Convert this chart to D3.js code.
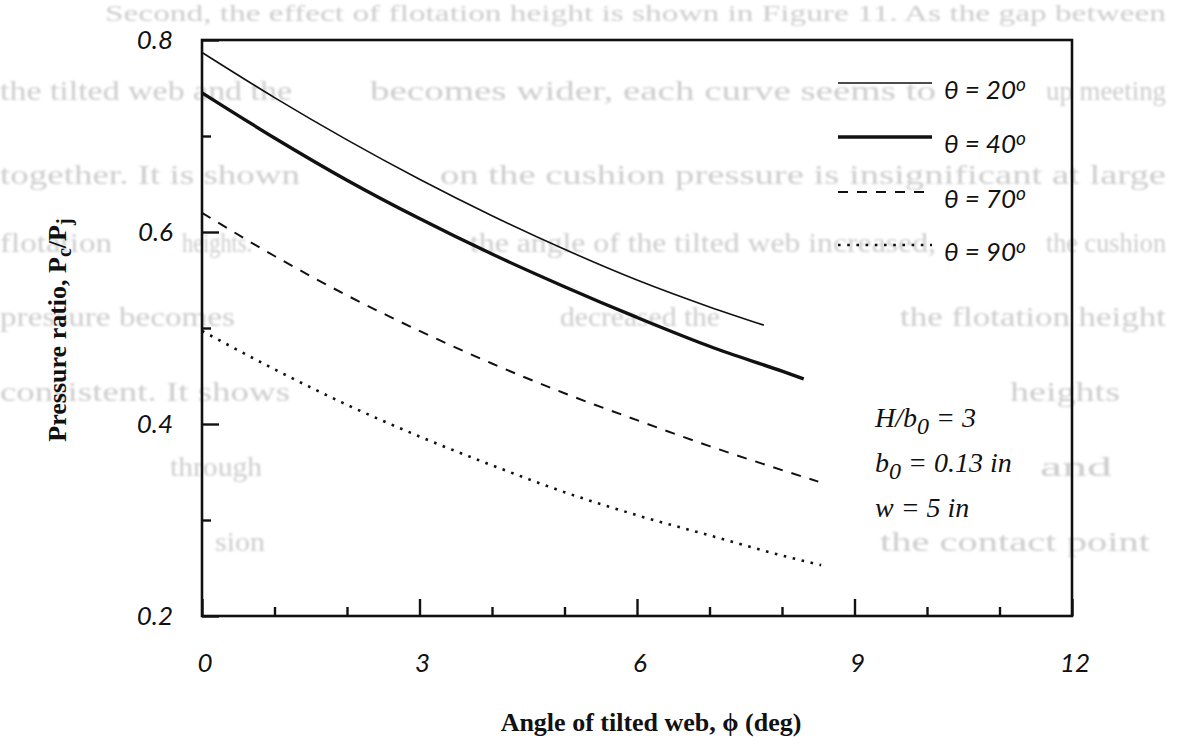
<!DOCTYPE html>
<html>
<head>
<meta charset="utf-8">
<script src="https://cdn.jsdelivr.net/npm/d3@7"></script>
<style>
  html, body { margin: 0; padding: 0; background: #ffffff; }
  svg { display: block; }
</style>
</head>
<body>
<svg id="chart" width="1180" height="744"></svg>
<script>
// Tilt angle of the web (deg) and cushion-to-jet pressure ratio for each curve
const phi20 = [0, 1, 2, 3, 4, 5, 6, 7, 7.75];
const ratio20 = [0.787, 0.740, 0.696, 0.655, 0.617, 0.582, 0.550, 0.522, 0.503];

const phi40 = [0, 1, 2, 3, 4, 5, 6, 7, 8, 8.3];
const ratio40 = [0.745, 0.698, 0.654, 0.614, 0.577, 0.543, 0.511, 0.481, 0.455, 0.447];

const phi70 = [0, 1, 2, 3, 4, 5, 6, 7, 8, 8.5];
const ratio70 = [0.620, 0.575, 0.534, 0.497, 0.463, 0.432, 0.404, 0.377, 0.352, 0.340];

const phi90 = [0, 1, 2, 3, 4, 5, 6, 7, 8, 8.54];
const ratio90 = [0.497, 0.457, 0.420, 0.387, 0.357, 0.329, 0.305, 0.284, 0.263, 0.253];

const seriesLabels = ["20", "40", "70", "90"];

const xMajorTicks = [0, 3, 6, 9, 12];
const xMinorTicks = [1, 2, 4, 5, 7, 8, 10, 11];
const yMajorTicks = [0.2, 0.4, 0.6, 0.8];
const yMinorTicks = [0.3, 0.5, 0.7];

const conditionLines = [
  { main: "H/b", sub: "0", rest: " = 3" },
  { main: "b", sub: "0", rest: " = 0.13 in" },
  { main: "w = 5 in", sub: "", rest: "" }
];

// Faint text of the printed page showing through behind the figure
const pageLines = [
  [["Second, the effect of flotation height is shown in Figure 11.  As the gap between", 105, 1166]],
  [["the tilted web and the", 0, 292], ["becomes wider, each curve seems to", 370, 936], ["up meeting", 1046, 1166]],
  [["together.  It is shown", 0, 300], ["on the cushion pressure is insignificant at large", 440, 1166]],
  [["flotation", 0, 112], ["heights.", 182, 252], ["the angle of the tilted web increased,", 470, 936], ["the cushion", 1046, 1166]],
  [["pressure becomes", 0, 235], ["decreased the", 560, 720], ["the flotation height", 900, 1166]],
  [["consistent.  It shows", 0, 290], ["heights", 1010, 1120]],
  [["through", 170, 262], ["and", 1040, 1112]],
  [["sion", 215, 265], ["the contact point", 880, 1150]]
];
const pageLineY = [21, 100, 184, 252, 326, 401, 476, 551];
const pageLineSize = [24, 28, 28, 28, 28, 28, 28, 28];

const svg = d3.select("#chart");
const plot = { left: 202, right: 1072, top: 40, bottom: 616 };

const x = d3.scaleLinear().domain([0, 12]).range([plot.left, plot.right]);
const y = d3.scaleLinear().domain([0.2, 0.8]).range([plot.bottom, plot.top]);

const serif = "'Liberation Serif', 'Times New Roman', Times, serif";
const sans = "Lato, 'Open Sans', sans-serif";

// soft filter for the show-through page text
const defs = svg.append("defs");
defs.append("filter").attr("id", "soft")
  .append("feGaussianBlur").attr("stdDeviation", 0.8);

const bg = svg.append("g").attr("filter", "url(#soft)");
pageLines.forEach((frags, i) => {
  frags.forEach(([t, x0, x1]) => {
    bg.append("text")
      .attr("x", x0).attr("y", pageLineY[i])
      .attr("font-family", serif)
      .attr("font-size", pageLineSize[i])
      .attr("fill", "#cdcdcd")
      .attr("textLength", x1 - x0).attr("lengthAdjust", "spacingAndGlyphs")
      .text(t);
  });
});

// frame
svg.append("rect")
  .attr("x", plot.left).attr("y", plot.top)
  .attr("width", plot.right - plot.left).attr("height", plot.bottom - plot.top)
  .attr("fill", "none").attr("stroke", "#111").attr("stroke-width", 2.6);

// inward ticks
const xAxisMajor = d3.axisBottom(x).tickValues(xMajorTicks).tickSizeInner(-17).tickSizeOuter(0).tickFormat("");
const xAxisMinor = d3.axisBottom(x).tickValues(xMinorTicks).tickSizeInner(-9).tickSizeOuter(0).tickFormat("");
const yAxisMajor = d3.axisLeft(y).tickValues(yMajorTicks).tickSizeInner(-17).tickSizeOuter(0).tickFormat("");
const yAxisMinor = d3.axisLeft(y).tickValues(yMinorTicks).tickSizeInner(-9).tickSizeOuter(0).tickFormat("");

[xAxisMajor, xAxisMinor].forEach(ax => {
  const g = svg.append("g").attr("transform", `translate(0,${plot.bottom})`).call(ax);
  g.select(".domain").remove();
  g.selectAll("line").attr("stroke", "#111").attr("stroke-width", 2.4);
});
[yAxisMajor, yAxisMinor].forEach(ax => {
  const g = svg.append("g").attr("transform", `translate(${plot.left},0)`).call(ax);
  g.select(".domain").remove();
  g.selectAll("line").attr("stroke", "#111").attr("stroke-width", 2.4);
});

// tick labels
svg.append("g").selectAll("text").data(xMajorTicks).join("text")
  .attr("x", d => x(d) + 3).attr("y", 672)
  .attr("text-anchor", "middle")
  .attr("font-family", sans).attr("font-style", "italic").attr("font-size", 26)
  .attr("fill", "#111")
  .text(d => d);
svg.append("g").selectAll("text").data(yMajorTicks).join("text")
  .attr("x", 173).attr("y", d => y(d) + 9)
  .attr("text-anchor", "end")
  .attr("font-family", sans).attr("font-style", "italic").attr("font-size", 26)
  .attr("fill", "#111")
  .text(d => d.toFixed(1));

// axis titles
svg.append("text")
  .attr("x", 651).attr("y", 731)
  .attr("text-anchor", "middle")
  .attr("font-family", serif).attr("font-weight", "bold").attr("font-size", 26)
  .attr("fill", "#111")
  .text("Angle of tilted web, \u03D5 (deg)");

const yTitle = svg.append("text")
  .attr("transform", "translate(66,330) rotate(-90)")
  .attr("text-anchor", "middle")
  .attr("font-family", serif).attr("font-weight", "bold").attr("font-size", 26)
  .attr("fill", "#111");
yTitle.append("tspan").text("Pressure ratio, P");
yTitle.append("tspan").attr("baseline-shift", "-25%").attr("font-size", 20).text("c");
yTitle.append("tspan").text("/P");
yTitle.append("tspan").attr("baseline-shift", "-25%").attr("font-size", 20).text("j");

// curves
const styles = [
  { width: 1.6, dash: null },
  { width: 3.4, dash: null },
  { width: 2.0, dash: "10 9" },
  { width: 2.6, dash: "2.6 6.6" }
];
const series = [
  d3.zip(phi20, ratio20),
  d3.zip(phi40, ratio40),
  d3.zip(phi70, ratio70),
  d3.zip(phi90, ratio90)
];
const line = d3.line().x(d => x(d[0])).y(d => y(d[1])).curve(d3.curveMonotoneX);

series.forEach((pts, i) => {
  svg.append("path")
    .attr("d", line(pts))
    .attr("fill", "none")
    .attr("stroke", "#111")
    .attr("stroke-width", styles[i].width)
    .attr("stroke-dasharray", styles[i].dash);
});

// legend
const legendY = [83, 137, 192, 245];
const legend = svg.append("g");
seriesLabels.forEach((lab, i) => {
  legend.append("line")
    .attr("x1", 838).attr("x2", 932)
    .attr("y1", legendY[i]).attr("y2", legendY[i])
    .attr("stroke", "#111")
    .attr("stroke-width", styles[i].width)
    .attr("stroke-dasharray", styles[i].dash);
  const t = legend.append("text")
    .attr("x", 944).attr("y", legendY[i] + 16)
    .attr("font-family", sans).attr("font-style", "italic").attr("font-size", 26)
    .attr("fill", "#111");
  t.append("tspan").text("\u03B8 = " + lab);
  t.append("tspan").attr("baseline-shift", "40%").attr("font-size", 19).text("o");
});

// operating conditions
const condY = [427, 472, 517];
conditionLines.forEach((c, i) => {
  const t = svg.append("text")
    .attr("x", 875).attr("y", condY[i])
    .attr("font-family", serif).attr("font-style", "italic").attr("font-size", 28)
    .attr("fill", "#111");
  t.append("tspan").text(c.main);
  if (c.sub) {
    t.append("tspan").attr("baseline-shift", "-30%").attr("font-size", 24).text(c.sub);
    t.append("tspan").text(c.rest);
  }
});
</script>
</body>
</html>
